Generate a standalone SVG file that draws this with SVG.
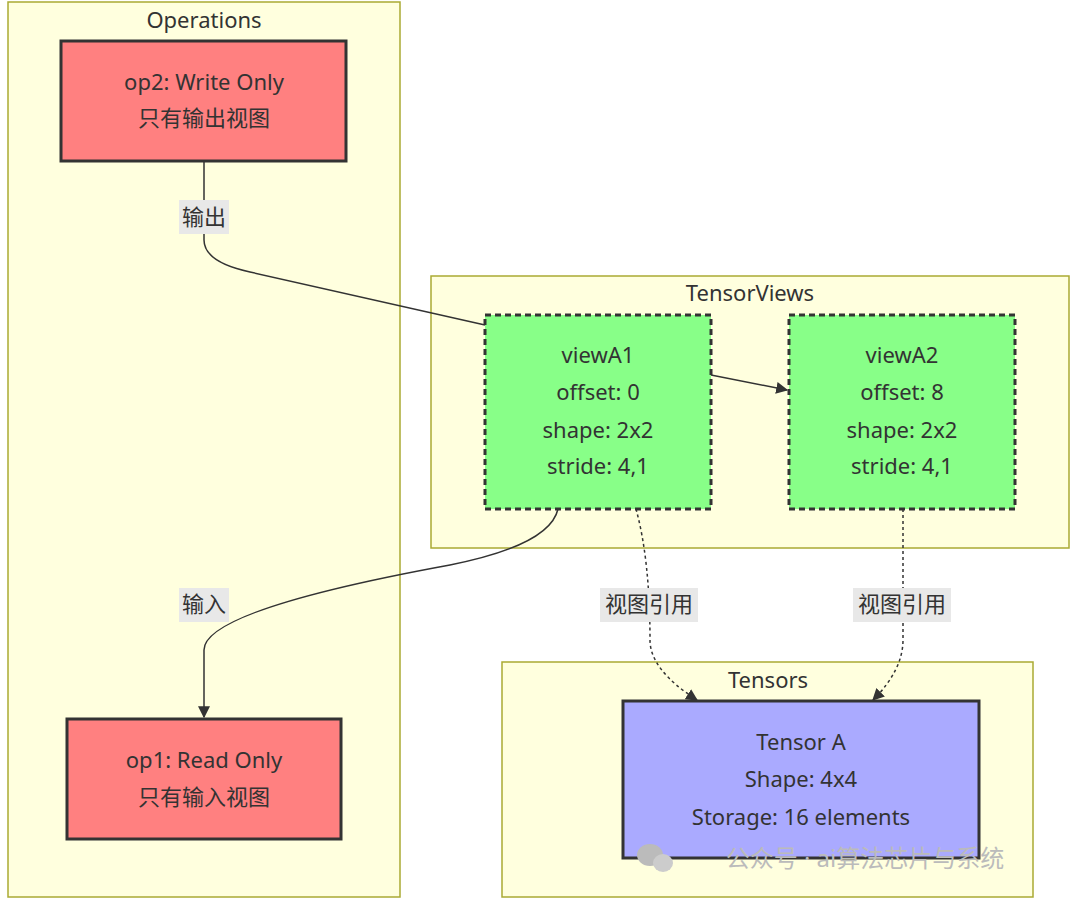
<svg xmlns="http://www.w3.org/2000/svg" width="1080" height="902" viewBox="0 0 1080 902">
<defs>
<style>
text{font-family:"Noto Sans","Noto Sans CJK SC",sans-serif;font-size:22px;fill:#333;text-anchor:middle}
.cl{fill:#ffffde;stroke:#aaaa33;stroke-width:1.5}
.op{fill:#ff8080;stroke:#333;stroke-width:3}
.vw{fill:#88ff88;stroke:#333;stroke-width:3;stroke-dasharray:6 4}
.ts{fill:#aaaaff;stroke:#333;stroke-width:3}
.e{fill:none;stroke:#333;stroke-width:1.5}
.d{stroke-dasharray:3 3}
.lb{fill:#e8e8e8}
</style>
<marker id="a" viewBox="0 0 10 10" refX="9" refY="5" markerWidth="8" markerHeight="8" orient="auto"><path d="M0,0L10,5L0,10z" fill="#333"/></marker>
</defs>
<g id="clusters">
<rect class="cl" x="8" y="2" width="392" height="895"/><text x="204" y="28">Operations</text>
<rect class="cl" x="431" y="276" width="638" height="272"/><text x="750" y="301">TensorViews</text>
<rect class="cl" x="502" y="662" width="531" height="235"/><text x="768" y="688">Tensors</text>
</g>
<g id="edges">
<path class="e" d="M204,161 V240 Q204,262 250,272 L485,325"/>
<path class="e" d="M711,375 L787,390" marker-end="url(#a)"/>
<path class="e" d="M558,509 Q550,545 450,565 Q204,610 204,650 V717" marker-end="url(#a)"/>
<path class="e d" d="M636,509 Q650,560 650,640 Q650,670 697,700" marker-end="url(#a)"/>
<path class="e d" d="M903,509 V640 Q903,670 873,700" marker-end="url(#a)"/>
<rect class="lb" x="179" y="200" width="50" height="34"/><text x="204" y="225">输出</text>
<rect class="lb" x="179" y="588" width="50" height="34"/><text x="204" y="612">输入</text>
<rect class="lb" x="600" y="588" width="98" height="34"/><text x="649" y="612">视图引用</text>
<rect class="lb" x="853" y="588" width="98" height="34"/><text x="902" y="612">视图引用</text>
</g>
<g id="op2"><rect class="op" x="61" y="41" width="285" height="120"/><text x="204" y="90">op2: Write Only</text><text x="204" y="126">只有输出视图</text></g>
<g id="op1"><rect class="op" x="67" y="719" width="274" height="120"/><text x="204" y="768">op1: Read Only</text><text x="204" y="805">只有输入视图</text></g>
<g id="viewA1"><rect class="vw" x="485" y="315" width="226" height="194"/><text x="598" y="363">viewA1</text><text x="598" y="400">offset: 0</text><text x="598" y="438">shape: 2x2</text><text x="598" y="474">stride: 4,1</text></g>
<g id="viewA2"><rect class="vw" x="789" y="315" width="226" height="194"/><text x="902" y="363">viewA2</text><text x="902" y="400">offset: 8</text><text x="902" y="438">shape: 2x2</text><text x="902" y="474">stride: 4,1</text></g>
<g id="tensorA"><rect class="ts" x="623" y="701" width="356" height="157"/><text x="801" y="750">Tensor A</text><text x="801" y="787">Shape: 4x4</text><text x="801" y="825">Storage: 16 elements</text></g>
<g id="watermark"><ellipse cx="650" cy="855" rx="13" ry="11" fill="#bbb"/><ellipse cx="663" cy="863" rx="10" ry="9" fill="#ccc"/><text x="865" y="867" style="fill:#bbb;font-size:24px">公众号 · ai算法芯片与系统</text></g>
</svg>
